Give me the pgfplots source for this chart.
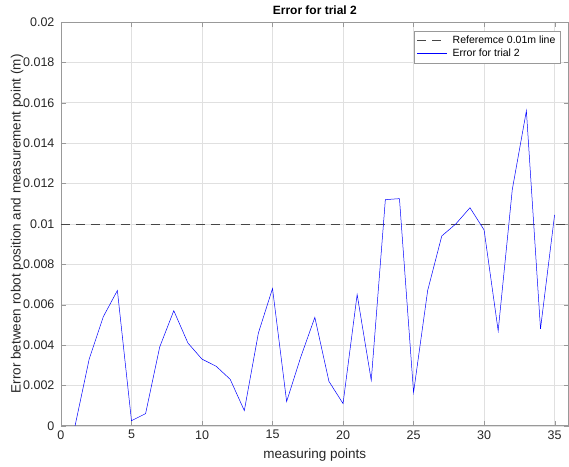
\documentclass[border=0pt]{standalone}
\usepackage{pgfplots}
\pgfplotsset{compat=1.18}
\usepackage{fontspec}
\setmainfont{Liberation Sans}
\definecolor{axgray}{gray}{0.15}
\definecolor{gridc}{gray}{0.88}
\begin{document}
\begin{tikzpicture}
\begin{axis}[
  scale only axis,
  width=508pt, height=404pt,
  xmin=0, xmax=36, ymin=0, ymax=0.02,
  xtick={0,5,...,35},
  ytick={0,0.002,...,0.0201},
  yticklabels={0,0.002,0.004,0.006,0.008,0.01,0.012,0.014,0.016,0.018,0.02},
  scaled y ticks=false,
  /pgf/number format/assume math mode=true,
  tick label style={font=\fontsize{12.5}{14}\selectfont, color=axgray},
  xticklabel style={yshift=-1pt},
  yticklabel style={xshift=-3pt},
  grid=major,
  major grid style={color=gridc, line width=0.5pt},
  axis line style={color=gray!80, line width=0.6pt},
  tick style={color=gray!80},
  tick align=inside,
  major tick length=5pt,
  title={\textbf{Error for trial 2}},
  title style={font=\fontsize{12}{14}\selectfont, yshift=-2pt},
  xlabel={measuring points},
  ylabel={Error between robot position and measurement point (m)},
  label style={font=\fontsize{13.5}{15}\selectfont, color=axgray},
  xlabel style={yshift=-3pt},
  ylabel style={at={(axis description cs:0,0.5)}, anchor=south, yshift=34pt},
  legend style={at={(0.984,0.978)}, anchor=north east, font=\fontsize{10.5}{12.5}\selectfont, draw=gray!80, inner sep=3pt, row sep=0pt,
    /tikz/every odd column/.append style={column sep=3pt}},
  legend cell align=left,
  legend image code/.code={\draw[#1] (0pt,0pt) -- (30pt,0pt);},
]
\addplot[color=gray!55!black, dash pattern=on 9pt off 6pt, line width=0.6pt] coordinates {(0,0.01) (36,0.01)};
\addlegendentry{Referemce 0.01m line}
\addplot[color=blue, line width=0.5pt] coordinates {
(1,0.0000) (2,0.0033) (3,0.0054) (4,0.0067) (5,0.00025) (6,0.0006) (7,0.0039)
(8,0.0057) (9,0.0041) (10,0.0033) (11,0.00295) (12,0.0023) (13,0.00075) (14,0.0046)
(15,0.0068) (16,0.0012) (17,0.0034) (18,0.00537) (19,0.0022) (20,0.0011) (21,0.0065)
(22,0.00225) (23,0.0112) (24,0.01125) (25,0.00165) (26,0.0067) (27,0.0094)
(28,0.0100) (29,0.0108) (30,0.0097) (31,0.0047) (32,0.0117) (33,0.0156)
(34,0.0048) (35,0.01045)};
\addlegendentry{Error for trial 2}
\end{axis}
\path (current axis.south west) +(-61pt,-41pt);
\path (current axis.north east) +(0pt,22pt);
\end{tikzpicture}
\end{document}
